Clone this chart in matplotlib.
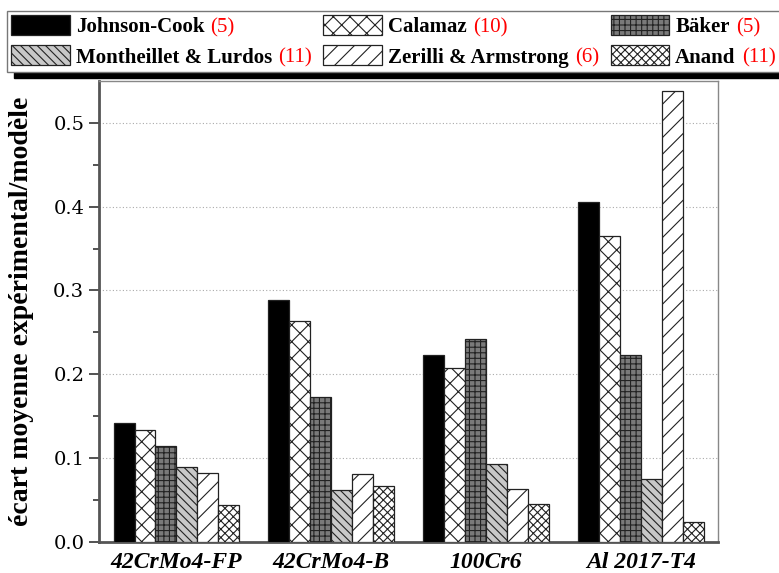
import numpy as np
import matplotlib
matplotlib.use("Agg")
import matplotlib.pyplot as plt
from matplotlib.offsetbox import TextArea
from matplotlib.patches import Rectangle

plt.rcParams['font.family'] = ['Liberation Serif', 'DejaVu Serif']
plt.rcParams['hatch.linewidth'] = 0.8

materials = ["42CrMo4-FP", "42CrMo4-B", "100Cr6", "Al 2017-T4"]
models = ["Johnson-Cook", "Calamaz", "Bäker",
          "Montheillet & Lurdos", "Zerilli & Armstrong", "Anand"]
n_params = ["(5)", "(10)", "(5)", "(11)", "(6)", "(11)"]

johnson_cook = [0.142, 0.289, 0.223, 0.405]
calamaz = [0.134, 0.263, 0.207, 0.365]
baker = [0.114, 0.173, 0.242, 0.223]
montheillet = [0.089, 0.062, 0.093, 0.075]
zerilli = [0.082, 0.081, 0.063, 0.538]
anand = [0.044, 0.067, 0.045, 0.024]
series = [johnson_cook, calamaz, baker, montheillet, zerilli, anand]

fills = ["black", "white", "#7a7a7a", "#c8c8c8", "white", "white"]
hatches = [None, "xx", "+++", "\\\\\\\\", "//", "xxxx"]

fig = plt.figure(figsize=(7.79, 5.73), dpi=100)
ax = fig.add_axes([0.127, 0.054, 0.795, 0.805])

x = np.arange(1, len(materials) + 1)
w = 0.135
bars = []
for i, vals in enumerate(series):
    b = ax.bar(x + (i - 2.5) * w, vals, w, color=fills[i], edgecolor="#222222",
               hatch=hatches[i], linewidth=0.9, label=models[i], zorder=3)
    bars.append(b)

ax.set_xlim(0.5, 4.5)
ax.set_ylim(0, 0.55)
ax.set_yticks([0.0, 0.1, 0.2, 0.3, 0.4, 0.5])
ax.set_yticks(np.arange(0.05, 0.55, 0.1), minor=True)
ax.yaxis.set_major_formatter(matplotlib.ticker.FormatStrFormatter("%.1f"))
for t in ax.get_yticklabels():
    t.set_fontfamily("DejaVu Serif")
ax.set_xticks(x)
ax.set_xticklabels(materials, fontsize=17, fontweight="bold", style="italic")
ax.tick_params(axis="x", length=0, pad=7)
ax.tick_params(axis="y", which="major", length=7, width=1.3, labelsize=14,
               color="#444444")
ax.tick_params(axis="y", which="minor", length=4, width=1.3, color="#444444")
ax.grid(axis="y", linestyle=(0, (1, 2)), color="#aaaaaa", linewidth=0.8, zorder=0)
for s in ["left", "bottom"]:
    ax.spines[s].set_linewidth(2)
    ax.spines[s].set_color("#555555")
for s in ["top", "right"]:
    ax.spines[s].set_linewidth(1)
    ax.spines[s].set_color("#888888")
ax.set_ylabel("écart moyenne expérimental/modèle", fontsize=20,
              fontweight="bold", labelpad=14)

# legend is filled row by row in the reference
order = [0, 3, 1, 4, 2, 5]
leg = fig.legend([bars[i] for i in order], [models[i] for i in order],
                 loc="upper left", bbox_to_anchor=(0.009, 0.981), ncols=3,
                 prop={"size": 15, "weight": "bold"}, frameon=True,
                 fancybox=False, edgecolor="#777777", framealpha=1,
                 handlelength=2.8, handleheight=1.1, handletextpad=0.3,
                 columnspacing=0.55, labelspacing=0.4, borderpad=0.2,
                 borderaxespad=0)
leg.get_frame().set_linewidth(1)

# red parameter counts appended to each legend entry
k = 0
for col in leg._legend_handle_box.get_children():
    for item in col.get_children():
        ta = TextArea(n_params[order[k]], textprops=dict(color="red", size=15))
        ta.set_figure(fig)
        ta._text.set_figure(fig)
        item._children.append(ta)
        k += 1

fig.canvas.draw()
bb = leg.get_window_extent().transformed(fig.transFigure.inverted())
sh = Rectangle((bb.x0 + 7 / 779, bb.y0 - 6 / 573), bb.width, bb.height,
               transform=fig.transFigure, color="black", zorder=leg.get_zorder() - 1)
fig.add_artist(sh)
leg.set_zorder(leg.get_zorder() + 1)

fig.savefig("out.png", dpi=100)
